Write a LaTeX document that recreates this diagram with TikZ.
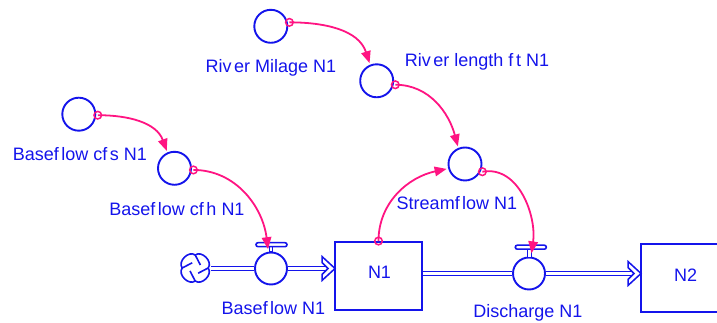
\documentclass[tikz,border=0pt]{standalone}
\usepackage{fontspec}
\setmainfont{Liberation Sans}
\usetikzlibrary{arrows.meta}
\definecolor{sfblue}{RGB}{20,20,235}
\definecolor{linkpink}{RGB}{255,20,130}
\newcommand{\fgap}{\kern2.5pt}

\begin{document}
\begin{tikzpicture}[x=1pt,y=1pt,
  aux/.style={circle,draw=sfblue,line width=1.9pt,minimum size=33pt,inner sep=0pt,outer sep=2.5pt},
  stock/.style={rectangle,draw=sfblue,line width=1.9pt,inner sep=0pt},
  valve/.style={circle,draw=sfblue,line width=1.9pt,minimum size=32pt,inner sep=0pt,fill=white},
  handle/.style={rectangle,rounded corners=2pt,draw=sfblue,line width=1.6pt,fill=white,inner sep=0pt},
  stem/.style={rectangle,draw=sfblue,line width=1.3pt,fill=white,inner sep=0pt,minimum width=3.5pt},
  lbl/.style={text=sfblue,font=\fontsize{18}{21}\selectfont,inner sep=0pt,anchor=base},
  link/.style={draw=linkpink,line width=1.8pt,-{Triangle[length=12pt,width=9.5pt]}},
  tail/.style={draw=linkpink,line width=1.5pt},
  pipe/.style={draw=sfblue,line width=1.4pt,double=white,double distance=2.8pt},
  chevron/.style={draw=sfblue,line width=1.5pt,fill=white,line join=miter},
]
\clip (0,0) rectangle (717,323);

% stocks
\node[stock,minimum width=87pt,minimum height=68pt] (n1) at (378.5,47) {};
\node[stock,minimum width=100pt,minimum height=68pt] (n2) at (691,45) {};

% source cloud and flow end points
\node[circle,minimum size=32pt,inner sep=0pt] (cloud) at (195.2,55) {};
\coordinate (bin) at (335,54.5);
\coordinate (dout) at (641,49.5);

% valves
\node[valve] (bv) at (271,54.5) {};
\node[valve] (dv) at (529,49.5) {};

% pipes
\draw[pipe] (cloud.east |- bv) -- (bv.west);
\draw[pipe] (bv.east) -- ([xshift=-9pt]bin);
\draw[pipe] (n1.east |- dv) -- (dv.west);
\draw[pipe] (dv.east) -- ([xshift=-9pt]dout);

% flow arrowheads
\foreach \t in {bin,dout}
  \draw[chevron] ([shift={(-13,12)}]\t) -- (\t) -- ([shift={(-13,-12)}]\t)
     -- ([shift={(-13,-6)}]\t) -- ([shift={(-7,0)}]\t) -- ([shift={(-13,6)}]\t) -- cycle;

% valve handles
\node[stem,minimum height=5.5pt] (bvs) at (271,73.8) {};
\node[handle,minimum width=31pt,minimum height=4pt] (bvh) at (271.5,78.3) {};
\node[stem,minimum height=8pt] (dvs) at (529.5,69.6) {};
\node[handle,minimum width=31pt,minimum height=4pt] (dvh) at (530.8,75.8) {};

% cloud symbol
\begin{scope}[shift={(cloud.center)},line width=1.6pt]
  \draw[sfblue] (0:13) .. controls (20:19) and (70:19) .. (90:13)
        .. controls (110:19) and (160:19) .. (180:13)
        .. controls (200:19) and (250:19) .. (270:13)
        .. controls (290:19) and (340:19) .. (360:13) -- cycle;
  \foreach \a in {0,90,180,270}
    \draw[sfblue] (\a:13) .. controls (\a-20:8) .. (\a-60:6);
\end{scope}

% auxiliaries
\node[aux] (rm) at (270.8,296.7) {};
\node[aux] (rl) at (376.7,242.2) {};
\node[aux] (bcfs) at (78.8,208.8) {};
\node[aux] (bcfh) at (174.5,154.7) {};
\node[aux] (sf) at (465,159) {};

% connectors
\draw[link] (rm.12) to[out=0,in=108] (rl.112);
\draw[link] (rl.-12) to[out=0,in=105] (sf.112);
\draw[link] (bcfs.-3) to[out=0,in=110] (bcfh.114);
\draw[link] (bcfh.-5) to[out=0,in=97] ([xshift=-3pt]bvs.center);
\draw[link] (n1.north) to[out=90,in=192] (sf.195);
\draw[link] (sf.-24) to[out=10,in=82] ([xshift=2pt]dvs.center);

% connector tails
\foreach \p in {rm.12,rl.-12,bcfs.-3,bcfh.-5,n1.north,sf.-24}
  \draw[tail] (\p) circle (3.8pt);

% labels
\node[lbl] (trm) at (271,250.5) {Riv\fgap er Milage N1};
\node[lbl] (trl) at (477,256.3) {Riv\fgap er length f\fgap t N1};
\node[lbl] (tbcfs) at (80,162) {Basef\fgap low cf\fgap s N1};
\node[lbl] (tbcfh) at (177,107) {Basef\fgap low cf\fgap h N1};
\node[lbl] (tsf) at (457,113.5) {Streamf\fgap low N1};
\node[lbl] (tbv) at (273.5,8.5) {Basef\fgap low N1};
\node[lbl] (tdv) at (528,5) {Discharge N1};
\node[lbl] (tn1) at (379.5,44) {N1};
\node[lbl] (tn2) at (685.5,41.5) {N2};
\end{tikzpicture}
\end{document}
